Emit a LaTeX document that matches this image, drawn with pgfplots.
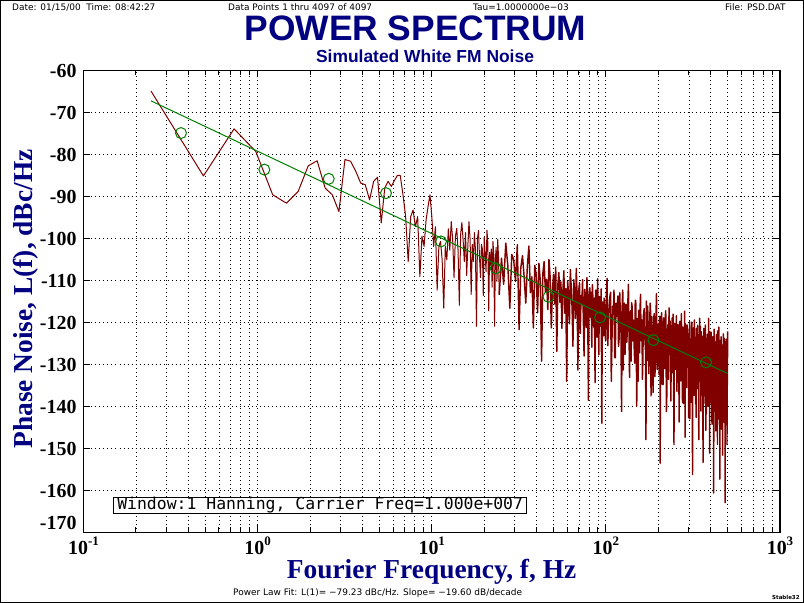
\documentclass[border=0pt]{standalone}
\usepackage{pgfplots}
\usepackage{pgfplotstable}
\pgfplotsset{compat=1.18}
\usepackage{fontspec}
\setmainfont{Liberation Serif}
\newfontfamily\arialf{Liberation Sans}
\newfontfamily\dvs{DejaVu Sans}
\newfontfamily\dvm{DejaVu Sans Mono}
\definecolor{navy}{RGB}{0,0,128}
\definecolor{dred}{RGB}{128,0,0}
\definecolor{dgreen}{RGB}{0,128,0}

% k = FFT bin (f = k / 4.096 Hz), L = phase noise dBc/Hz
\pgfplotstableread{
k L
1 -64.9
2 -85.1
3 -73.9
4 -79.3
5 -89.6
6 -91.6
7 -88.8
8 -82.7
9 -81.5
10 -88.0
11 -89.6
12 -93.6
13 -81.2
14 -81.6
15 -84.0
16 -86.8
17 -87.2
18 -90.8
19 -86.4
20 -85.4
21 -96.3
22 -88.0
23 -86.4
24 -87.6
25 -86.2
26 -85.0
27 -85.0
28 -89.6
29 -94.8
30 -105.5
31 -94.8
32 -93.2
33 -97.2
34 -94.8
35 -109.1
36 -99.5
37 -101.9
38 -95.6
39 -92.4
40 -89.6
41 -94.8
42 -101.9
43 -97.2
44 -112.3
45 -101.9
46 -100.7
47 -105.1
48 -116.6
49 -101.9
50 -105.1
51 -97.7
52 -102.8
53 -96.0
54 -100.2
55 -109.3
56 -99.5
57 -97.6
58 -102.8
59 -115.9
60 -99.1
61 -96.2
62 -100.3
63 -105.5
64 -98.6
65 -108.8
66 -101.9
67 -96.0
68 -100.1
69 -113.3
70 -101.4
71 -105.5
72 -98.6
73 -102.7
74 -120.9
75 -100.0
76 -98.1
77 -104.2
78 -109.3
79 -101.4
80 -102.5
81 -113.6
82 -99.7
83 -103.8
84 -107.9
85 -98.0
86 -101.1
87 -117.2
88 -103.3
89 -106.4
90 -102.5
91 -111.6
92 -100.7
93 -103.8
94 -120.9
95 -105.0
96 -102.1
97 -110.2
98 -100.2
99 -104.3
100 -113.4
103 -104.7
106 -110.9
109 -101.1
112 -106.4
115 -116.6
118 -103.8
121 -105.0
124 -110.2
127 -101.5
130 -121.7
133 -106.9
136 -104.1
139 -109.2
142 -115.4
145 -106.6
148 -101.8
151 -112.9
154 -109.1
157 -121.3
160 -106.4
163 -108.6
166 -117.7
169 -105.9
172 -110.0
175 -129.2
178 -108.3
181 -105.5
184 -112.6
187 -109.7
190 -116.9
193 -105.0
196 -109.2
199 -121.3
202 -112.4
205 -108.5
208 -115.6
211 -106.8
214 -126.9
217 -111.0
220 -108.1
223 -115.2
226 -110.3
229 -121.4
232 -112.5
235 -107.7
238 -117.8
241 -111.9
244 -134.0
247 -110.1
250 -113.2
253 -120.3
256 -107.4
259 -111.5
262 -116.6
265 -125.7
268 -109.8
271 -112.9
274 -119.0
277 -107.1
280 -114.2
283 -131.3
286 -112.4
289 -110.5
292 -122.6
295 -113.6
298 -115.7
301 -109.8
304 -118.9
307 -128.0
310 -112.1
313 -114.2
316 -121.2
319 -109.3
322 -115.4
325 -138.5
328 -113.6
331 -111.7
334 -118.7
337 -112.8
340 -125.9
343 -111.0
346 -116.0
349 -121.1
352 -114.2
355 -134.3
358 -112.3
361 -115.4
364 -123.5
367 -109.6
370 -117.6
373 -127.7
376 -113.8
379 -115.8
382 -120.9
385 -112.0
388 -144.0
391 -115.1
394 -117.2
397 -123.2
400 -114.2
404 -121.2
408 -124.4
412 -113.4
416 -109.5
420 -125.5
424 -120.7
428 -116.7
432 -113.8
436 -112.8
440 -134.0
444 -124.0
448 -116.1
452 -118.1
456 -112.3
460 -128.3
464 -128.4
468 -115.4
472 -118.6
476 -116.6
480 -113.7
484 -125.7
488 -123.9
492 -112.9
496 -118.1
500 -122.1
504 -141.2
508 -116.2
512 -112.3
516 -131.3
520 -117.4
524 -115.4
528 -127.6
532 -119.6
536 -115.7
540 -124.7
544 -121.8
548 -114.8
552 -110.9
556 -121.9
560 -133.1
564 -118.1
568 -117.2
572 -129.2
576 -115.3
580 -116.3
584 -124.4
588 -119.4
592 -119.6
596 -126.6
600 -129.7
604 -114.7
608 -114.8
612 -124.8
616 -139.9
620 -120.9
624 -119.0
628 -134.0
632 -117.1
636 -118.1
640 -127.2
644 -116.2
648 -113.3
652 -124.3
656 -122.4
660 -119.4
664 -133.5
668 -129.5
672 -118.6
676 -117.6
680 -116.7
684 -122.7
688 -124.8
692 -126.8
696 -147.9
700 -114.9
704 -120.0
708 -129.0
712 -116.1
716 -121.1
720 -129.2
724 -132.2
728 -121.3
732 -119.3
736 -115.4
740 -117.4
744 -137.5
748 -126.5
752 -118.6
756 -122.6
760 -122.7
764 -136.7
768 -127.8
772 -118.8
776 -117.9
780 -120.9
784 -132.9
788 -125.9
792 -121.0
796 -117.0
800 -113.1
804 -129.1
808 -131.2
812 -122.2
816 -122.3
820 -120.3
824 -127.4
828 -132.4
832 -119.5
836 -118.5
840 -153.5
844 -125.5
848 -120.6
852 -121.6
856 -117.7
860 -134.7
864 -125.8
868 -119.8
872 -134.8
876 -123.8
880 -118.9
884 -120.9
888 -122.0
892 -131.0
896 -130.1
900 -118.1
904 -117.2
908 -127.2
912 -141.2
916 -139.2
920 -123.3
924 -122.3
928 -121.4
932 -120.4
936 -133.5
940 -129.5
944 -116.5
948 -123.5
952 -127.6
956 -119.6
960 -120.7
964 -132.7
968 -138.7
972 -124.7
976 -122.8
980 -121.8
984 -118.9
988 -128.9
992 -132.0
996 -118.0
1000 -125.0
1004 -137.0
1008 -149.1
1012 -124.1
1016 -120.2
1020 -121.2
1024 -124.2
1028 -131.2
1032 -130.3
1036 -123.3
1040 -118.4
1044 -124.4
1048 -136.4
1052 -130.4
1056 -122.5
1060 -120.5
1064 -121.5
1068 -125.5
1072 -128.6
1076 -135.6
1080 -143.7
1084 -121.7
1088 -119.7
1092 -128.7
1096 -123.8
1100 -119.8
1104 -133.9
1108 -132.9
1112 -117.9
1116 -123.9
1120 -127.0
1124 -130.3
1128 -139.0
1132 -121.3
1136 -121.1
1140 -139.3
1144 -125.2
1148 -123.3
1152 -132.2
1156 -125.3
1160 -117.3
1164 -132.3
1168 -147.3
1172 -120.3
1176 -123.4
1180 -126.3
1184 -126.5
1188 -135.3
1192 -135.5
1196 -123.3
1200 -120.6
1204 -122.9
1208 -124.6
1212 -129.9
1216 -130.7
1220 -124.9
1224 -142.7
1228 -134.9
1232 -122.8
1236 -121.9
1240 -119.8
1244 -142.9
1248 -133.9
1252 -123.9
1256 -125.9
1260 -125.9
1264 -139.0
1268 -131.9
1272 -122.1
1276 -119.9
1280 -124.1
1284 -129.4
1288 -156.2
1292 -123.4
1296 -125.2
1300 -137.4
1304 -121.3
1308 -125.4
1312 -132.3
1316 -122.4
1320 -119.4
1324 -131.4
1328 -137.4
1332 -127.4
1336 -126.5
1340 -139.4
1344 -123.5
1348 -124.4
1352 -142.6
1356 -121.4
1360 -122.6
1364 -134.9
1368 -130.7
1372 -125.9
1376 -120.7
1380 -123.9
1384 -135.8
1388 -130.9
1392 -125.8
1396 -141.9
1400 -147.9
1404 -122.9
1408 -123.9
1412 -126.9
1416 -119.0
1420 -133.9
1424 -134.0
1428 -120.9
1432 -128.1
1436 -128.9
1440 -141.1
1444 -125.3
1448 -122.2
1452 -137.3
1456 -125.2
1460 -127.3
1464 -132.2
1468 -123.3
1472 -123.3
1476 -133.3
1480 -153.3
1484 -126.3
1488 -127.4
1492 -139.3
1496 -121.4
1500 -124.3
1504 -137.5
1508 -128.3
1512 -124.5
1516 -132.3
1520 -130.6
1524 -122.8
1528 -120.6
1532 -134.8
1536 -145.7
1540 -127.8
1544 -125.7
1548 -141.8
1552 -126.7
1556 -125.8
1560 -135.8
1564 -123.8
1568 -122.8
1572 -131.8
1576 -139.9
1580 -126.8
1584 -127.9
1588 -136.8
1592 -119.0
1596 -124.8
1600 -134.0
1604 -129.2
1608 -125.1
1612 -134.2
1616 -151.1
1620 -122.2
1624 -124.1
1628 -139.2
1632 -129.2
1636 -127.2
1640 -138.2
1644 -125.2
1648 -122.3
1652 -136.2
1656 -127.3
1660 -128.2
1664 -143.3
1668 -144.2
1672 -126.4
1676 -124.2
1680 -123.4
1684 -132.6
1688 -135.5
1692 -126.6
1696 -128.5
1700 -123.6
1704 -160.6
1708 -135.6
1712 -121.6
1716 -129.6
1720 -126.6
1724 -140.6
1728 -137.7
1732 -124.6
1736 -124.7
1740 -127.6
1744 -132.8
1748 -133.6
1752 -145.8
1756 -125.6
1760 -125.8
1764 -139.0
1768 -122.9
1772 -129.0
1776 -139.9
1780 -125.0
1784 -128.0
1788 -135.0
1792 -149.0
1796 -122.0
1800 -125.0
1804 -132.0
1808 -129.1
1812 -143.0
1816 -135.1
1820 -127.0
1824 -121.1
1828 -128.0
1832 -142.2
1836 -137.0
1840 -127.2
1844 -126.4
1848 -157.3
1852 -130.4
1856 -124.3
1860 -138.4
1864 -130.3
1868 -124.4
1872 -137.4
1876 -134.4
1880 -123.4
1884 -127.4
1888 -145.4
1892 -142.4
1896 -128.5
1900 -129.4
1904 -126.5
1908 -125.4
1912 -134.5
1916 -136.4
1920 -151.6
1924 -128.8
1928 -125.6
1932 -140.8
1936 -122.7
1940 -126.8
1944 -139.7
1948 -130.8
1952 -129.7
1956 -135.8
1960 -143.8
1964 -123.8
1968 -124.8
1972 -133.8
1976 -127.8
1980 -144.8
1984 -162.9
1988 -127.8
1992 -126.9
1996 -125.8
2000 -128.9
2004 -137.0
2008 -141.0
2012 -129.0
2016 -124.0
2020 -140.0
2024 -131.0
2028 -126.0
2032 -149.1
2036 -130.0
2040 -126.1
2044 -135.0
2048 -122.1
}\psd

\pgfplotstableread{
f L
0.363 -74.9
1.093 -83.6
2.56 -85.8
5.46 -89.2
11.3 -100.7
23.3 -107.1
46.8 -113.9
92.6 -118.8
187.5 -124.2
376 -129.5
}\avg

\begin{document}
\begin{tikzpicture}[x=1bp,y=1bp]
\useasboundingbox (0,0) rectangle (804,603);
\fill[white] (0,0) rectangle (804,603);
\begin{axis}[
  at={(83.5bp,70.5bp)}, anchor=south west,
  scale only axis, width=696.5bp, height=462bp,
  xmode=log, xmin=0.1, xmax=1000, ymin=-170, ymax=-60,
  xtick={0.1,1,10,100,1000},
  xticklabels={{10\raisebox{9bp}{\fontsize{13}{13}\selectfont -1}},
               {10\raisebox{9bp}{\fontsize{13}{13}\selectfont 0}},
               {10\raisebox{9bp}{\fontsize{13}{13}\selectfont 1}},
               {10\raisebox{9bp}{\fontsize{13}{13}\selectfont 2}},
               {10\raisebox{9bp}{\fontsize{13}{13}\selectfont 3}}},
  minor xtick={0.2,0.3,0.4,0.5,0.6,0.7,0.8,0.9,2,3,4,5,6,7,8,9,20,30,40,50,60,70,80,90,200,300,400,500,600,700,800,900},
  ytick={-160,-150,-140,-130,-120,-110,-100,-90,-80,-70,-60},
  yticklabels={-160,-150,-140,-130,-120,-110,-100,-90,-80,-70,-60},
  extra y ticks={-170}, extra y tick labels={-170},
  extra y tick style={yticklabel style={yshift=9.5bp}},
  xmajorgrids, xminorgrids, ymajorgrids,
  grid style={black, line width=0.8bp, dash pattern=on 0.8bp off 3.2bp},
  minor grid style={black, line width=0.8bp, dash pattern=on 0.8bp off 3.2bp},
  tick align=inside,
  major tick length=7bp, minor tick length=5bp,
  every tick/.style={black, line width=1bp},
  axis line style={line width=1.2bp},
  xticklabel style={font=\bfseries\fontsize{20}{20}\selectfont, anchor=base, inner sep=0pt, yshift=-21.8bp},
  yticklabel style={font=\bfseries\fontsize{20}{20}\selectfont, anchor=east, inner sep=0pt, xshift=-6.8bp},
  xlabel={Fourier Frequency, f, Hz},
  ylabel={Phase Noise, L(f), dBc/Hz},
  xlabel style={at={(axis description cs:0.4997,-0.1005)}, anchor=base, font=\bfseries\fontsize{27.5}{28}\selectfont, text=navy, inner sep=0pt},
  ylabel style={at={(axis description cs:-0.0739,0.5054)}, anchor=base, rotate=0, font=\bfseries\fontsize{27.5}{28}\selectfont, text=navy, inner sep=0pt},
]
\addplot[dred, line width=1bp, line join=round, skip coords between index={100}{100000}] table[x expr=\thisrow{k}/4.096, y=L] {\psd};
\addplot[dred, line width=1.45bp, line join=round, skip coords between index={0}{99}] table[x expr=\thisrow{k}/4.096, y=L] {\psd};
\addplot[dgreen, line width=1bp] coordinates {(0.2441,-67.23) (500,-132.13)};
\addplot[dgreen, only marks, mark=o, mark size=5.5bp, mark options={line width=1bp}] table[x=f, y=L] {\avg};
\end{axis}
\node[draw, line width=1bp, fill=white, anchor=north west, inner xsep=3.5bp, inner ysep=0bp, text height=12.5bp, text depth=3.8bp, font=\dvm\fontsize{16.5}{16.5}\selectfont] at (113.3,106.3) {Window:1 Hanning, Carrier Freq=1.000e+007};
\node[anchor=base, font=\arialf\bfseries\fontsize{35.5}{36}\selectfont, text=navy, inner sep=0pt] at (415.5,562) {POWER SPECTRUM};
\node[anchor=base, font=\arialf\bfseries\fontsize{17.5}{18}\selectfont, text=navy, inner sep=0pt] at (425,540.7) {Simulated White FM Noise};
\begin{scope}[every node/.style={anchor=base west, inner sep=0pt, font=\dvs\fontsize{9}{9}\selectfont}]
\node at (12,592) {Date: 01/15/00\ \ Time: 08:42:27};
\node at (228,592) {Data Points 1 thru 4097 of 4097};
\node at (473,592) {Tau=1.0000000e−03};
\node at (725,592) {File: PSD.DAT};
\node at (233,7.7) {Power Law Fit: L(1)= −79.23 dBc/Hz. Slope= −19.60 dB/decade};
\node[font=\dvs\bfseries\fontsize{5.5}{6}\selectfont] at (772,3) {Stable32};
\end{scope}
\draw[line width=1.2bp] (0.6,0.6) rectangle (803.4,602.4);
\end{tikzpicture}
\end{document}
